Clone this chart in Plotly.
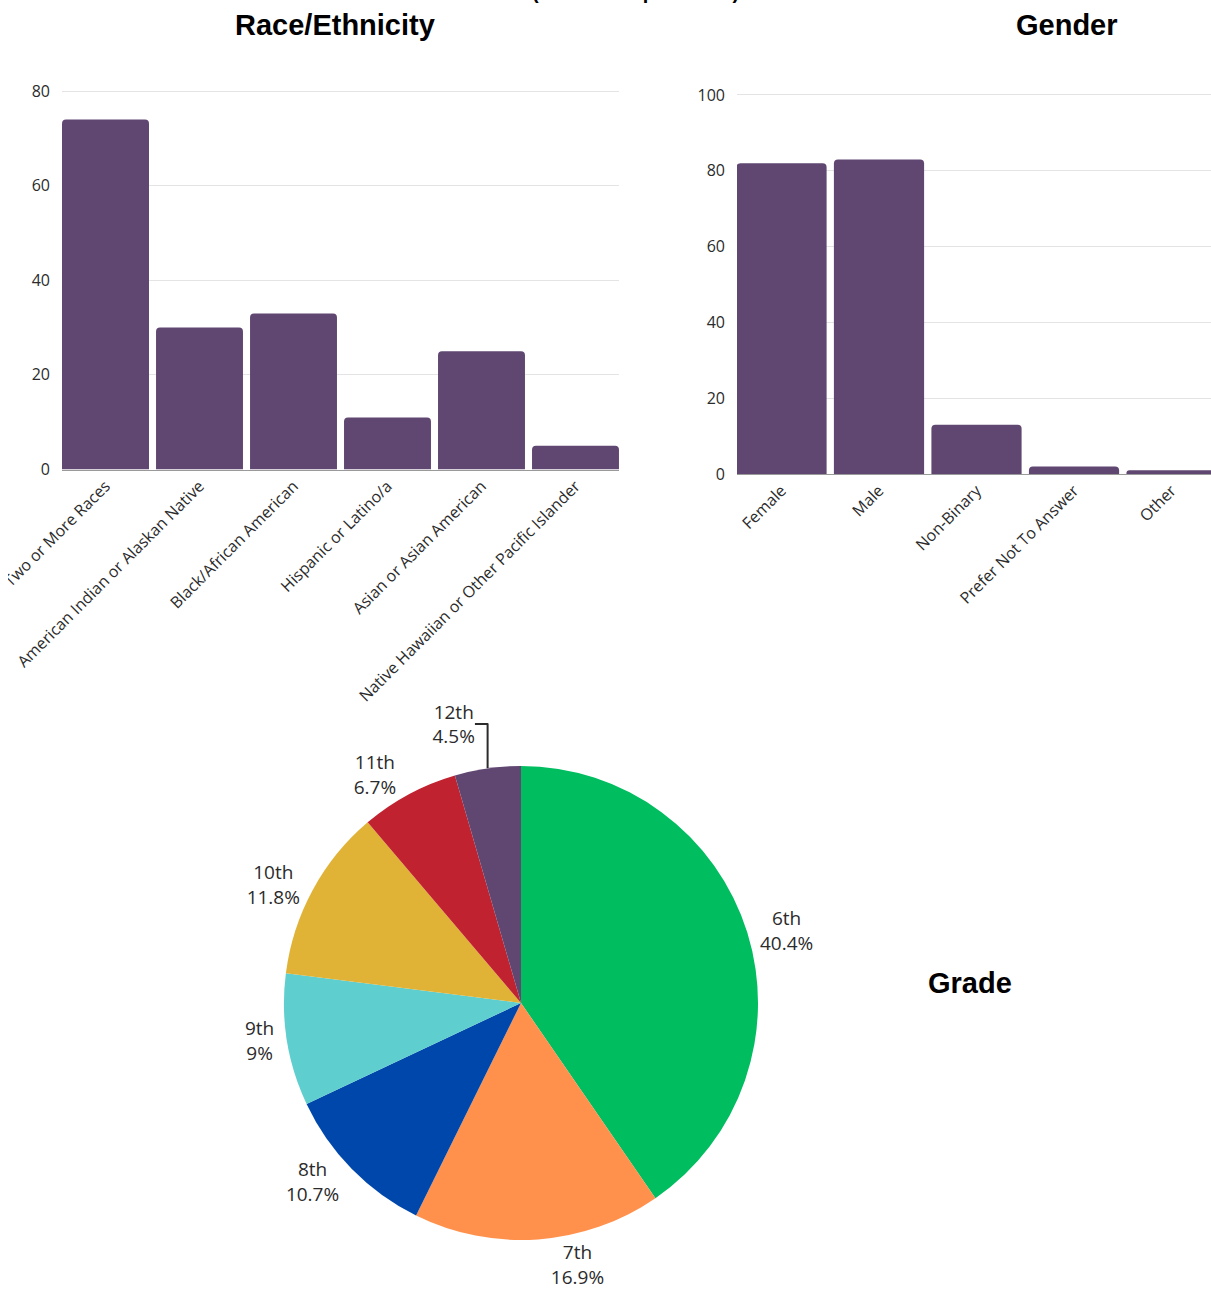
import plotly.graph_objects as go

race_categories = ["Two or More Races", "American Indian or Alaskan Native", "Black/African American",
                   "Hispanic or Latino/a", "Asian or Asian American", "Native Hawaiian or Other Pacific Islander"]
race_counts = [74, 30, 33, 11, 25, 5]

gender_categories = ["Female", "Male", "Non-Binary", "Prefer Not To Answer", "Other"]
gender_counts = [82, 83, 13, 2, 1]

grade_labels = ["6th", "7th", "8th", "9th", "10th", "11th", "12th"]
grade_values = [40.4, 16.9, 10.7, 9.0, 11.8, 6.7, 4.5]
grade_colors = ["#00bd60", "#ff914d", "#0047ab", "#5fcecf", "#e0b337", "#c1222f", "#604772"]

BAR = "#604772"
W, H = 1211, 1289
OFFX, OFFY = 8, 0  # page offset of the figure
TXT = "#2b2b2b"

def px(x):
    return (x - OFFX) / W

def py(y):
    return (H - (y - OFFY)) / H

fig = go.Figure()

fig.add_trace(go.Bar(x=race_categories, y=race_counts, marker=dict(color=BAR, line=dict(width=0), cornerradius=4),
                     xaxis="x", yaxis="y", showlegend=False, hoverinfo="x+y"))
fig.add_trace(go.Bar(x=gender_categories, y=gender_counts, marker=dict(color=BAR, line=dict(width=0), cornerradius=4),
                     xaxis="x2", yaxis="y2", showlegend=False, hoverinfo="x+y"))
fig.add_trace(go.Pie(labels=grade_labels, values=grade_values, sort=False, direction="clockwise", rotation=0,
                     marker=dict(colors=grade_colors, line=dict(width=0)),
                     textinfo="label+percent", textposition="outside",
                     outsidetextfont=dict(family="Open Sans", size=19, color=TXT),
                     domain=dict(x=[px(284), px(758)], y=[py(1240), py(766)]),
                     automargin=False, showlegend=False))

axis_font = dict(family="Open Sans", size=16, color=TXT)

fig.update_layout(
    width=W, height=H,
    margin=dict(l=0, r=0, t=0, b=0, pad=0, autoexpand=False),
    paper_bgcolor="white", plot_bgcolor="white",
    bargap=0.075,
    xaxis=dict(domain=[px(62), px(619)], anchor="y", type="category", range=[-0.4628, 5.4628],
               tickangle=-45, tickfont=axis_font, showgrid=False, showline=True, automargin=False,
               linecolor="#9a9a9a", linewidth=1, ticks=""),
    yaxis=dict(domain=[py(469.5), py(86.3)], anchor="x", range=[0, 81], tickvals=[0, 20, 40, 60, 80],
               tickfont=axis_font, showgrid=True, gridcolor="#e4e4e4", gridwidth=1, zeroline=False,
               showline=False, ticks="", ticklabelstandoff=11, automargin=False),
    xaxis2=dict(domain=[px(737), 1.0], anchor="y2", type="category", range=[-0.4564, 4.487],
                tickangle=-45, tickfont=axis_font, showgrid=False, showline=True, automargin=False,
                linecolor="#9a9a9a", linewidth=1, ticks=""),
    yaxis2=dict(domain=[py(474), py(91.2)], anchor="x2", range=[0, 101], tickvals=[0, 20, 40, 60, 80, 100],
                tickfont=axis_font, showgrid=True, gridcolor="#e4e4e4", gridwidth=1, zeroline=False,
                showline=False, ticks="", ticklabelstandoff=11, automargin=False),
)

title_font = dict(family="Liberation Sans, Arial", size=29, color="black")
fig.add_annotation(text="<b>Race/Ethnicity</b>", x=px(335), y=py(25), xref="paper", yref="paper",
                   xanchor="center", yanchor="middle", showarrow=False, font=title_font)
fig.add_annotation(text="<b>Gender</b>", x=px(1067), y=py(25), xref="paper", yref="paper",
                   xanchor="center", yanchor="middle", showarrow=False, font=title_font)
fig.add_annotation(text="<b>Grade</b>", x=px(970), y=py(983), xref="paper", yref="paper",
                   xanchor="center", yanchor="middle", showarrow=False, font=title_font)
fig.add_annotation(text="<b>(n = 178 respondents)</b>", x=px(635), y=py(5), xref="paper", yref="paper",
                   xanchor="center", yanchor="bottom", showarrow=False,
                   font=dict(family="Liberation Sans, Arial", size=20, color="black"))

fig.write_html("out.html", config={"displayModeBar": False},
               post_script="document.body.style.margin='0 0 0 8px';document.body.style.overflow='hidden';")
